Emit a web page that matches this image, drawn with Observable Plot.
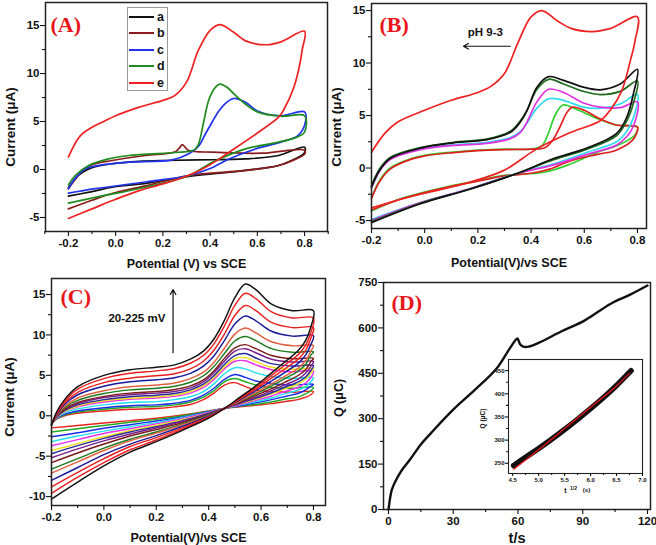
<!DOCTYPE html>
<html><head><meta charset="utf-8">
<script src="https://cdn.jsdelivr.net/npm/d3@7"></script>
<script src="https://cdn.jsdelivr.net/npm/@observablehq/plot@0.6"></script>
<style>
body{margin:0;background:#fff;}
#fig{position:relative;width:656px;height:545px;overflow:hidden;background:#fff;font-family:"Liberation Sans",Arial,sans-serif;}
#fig svg{position:absolute;max-width:none;}
</style></head><body><div id="fig"></div>
<script>
// ---------------- Panel A data ----------------
const A_names = ["a","b","c","d","e"];
const A_colors = ["#111111","#8b1c1c","#2233ee","#1e8c1e","#ee2222"];
const A_a_x = [-0.2,-0.17,-0.14,-0.1,-0.015,0.1,0.2,0.35,0.55,0.69,0.8,0.8,0.75,0.69,0.55,0.31,0.126,-0.015,-0.1,-0.2];
const A_a_y = [-1.9,-0.9,-0.28,0.2,0.6,0.85,0.94,1.0,1.1,1.46,2.33,1.75,1.0,0.42,-0.1,-0.73,-1.45,-1.85,-2.3,-2.78];
const A_b_x = [-0.2,-0.17,-0.142,-0.1,-0.015,0.126,0.253,0.272,0.282,0.295,0.31,0.41,0.62,0.8,0.8,0.75,0.69,0.55,0.31,0.126,-0.015,-0.1,-0.2];
const A_b_y = [-2.0,-1.0,-0.1,0.5,0.94,1.46,1.85,2.3,2.6,2.3,1.98,1.8,1.7,2.0,1.6,0.95,0.42,-0.1,-0.63,-1.7,-2.5,-3.2,-4.1];
const A_c_x = [-0.2,-0.17,-0.128,-0.05,0.055,0.24,0.31,0.35,0.38,0.41,0.437,0.47,0.5,0.55,0.6,0.7,0.8,0.8,0.77,0.7,0.6,0.48,0.4,0.31,0.126,-0.086,-0.2];
const A_c_y = [-2.0,-0.9,0.07,0.5,0.76,1.0,1.63,2.4,3.7,5.0,6.1,7.0,7.4,7.0,6.1,5.6,6.0,4.6,3.5,2.85,2.2,1.1,0.1,-0.63,-1.3,-2.0,-2.47];
const A_d_x = [-0.2,-0.17,-0.114,-0.03,0.055,0.267,0.33,0.35,0.373,0.395,0.42,0.44,0.47,0.5,0.55,0.6,0.7,0.8,0.8,0.77,0.69,0.55,0.41,0.31,0.126,-0.086,-0.2];
const A_d_y = [-1.6,-0.6,0.42,1.1,1.46,1.8,2.0,2.6,5.0,7.3,8.5,8.9,8.6,7.9,6.8,6.0,5.55,5.6,3.9,3.4,2.85,2.15,0.76,-0.63,-1.85,-2.9,-3.5];
const A_e_x = [-0.2,-0.15,-0.1,-0.05,0.0,0.1,0.2,0.25,0.3,0.35,0.4,0.44,0.5,0.55,0.64,0.7,0.8,0.79,0.78,0.755,0.71,0.69,0.6,0.48,0.4,0.31,0.2,0.1,0.0,-0.1,-0.2];
const A_e_y = [1.3,3.5,4.4,5.0,5.6,6.5,7.2,7.7,9.1,12.4,14.5,15.1,14.3,13.4,13.0,13.3,14.4,12.5,11.0,8.6,6.15,5.45,3.8,1.8,0.5,-0.6,-1.5,-2.2,-3.1,-4.1,-5.1];

// ---------------- Panel B data ----------------
const B_colors = ["#ee2222","#111111","#1f6b1f","#e030e0","#30dcec","#30d030","#e02020"];
const B_red_x = [-0.2,-0.15,-0.1,0.0,0.1,0.2,0.25,0.3,0.35,0.4,0.44,0.5,0.55,0.63,0.7,0.8,0.79,0.774,0.74,0.7,0.66,0.55,0.42,0.3,0.17,0.0,-0.08,-0.2];
const B_red_y = [1.5,3.3,4.4,5.5,6.45,7.2,7.8,9.0,11.9,14.4,15.0,14.0,13.3,13.0,13.3,14.4,12.0,10.3,7.3,5.6,4.5,3.4,1.8,-0.2,-1.35,-2.4,-2.9,-3.8];
const B_k_x = [-0.2,-0.17,-0.13,-0.016,0.108,0.234,0.322,0.36,0.385,0.422,0.466,0.522,0.597,0.66,0.735,0.8,0.785,0.76,0.722,0.61,0.485,0.36,0.172,-0.016,-0.2];
const B_black_y = [-1.8,-0.24,0.9,1.9,2.4,2.7,3.4,4.4,5.5,7.7,8.7,8.35,7.7,7.45,8.0,9.4,7.1,4.85,3.3,1.9,0.9,-0.4,-2.0,-3.4,-5.2];
const B_dkgreen_y = [-1.7,-0.1,1.0,1.95,2.45,2.75,3.5,4.5,5.5,7.5,8.45,8.0,7.3,7.0,7.3,8.3,6.2,4.5,3.1,1.8,0.8,-0.4,-2.0,-3.35,-5.1];
const B_magenta_y = [-1.9,-0.3,0.8,1.75,2.15,2.35,2.8,3.4,4.4,6.3,7.5,7.2,6.2,5.8,5.75,6.3,4.0,3.0,2.2,1.3,0.3,-0.45,-1.95,-3.3,-5.0];
const B_cyan_y = [-1.9,-0.3,0.85,1.8,2.2,2.45,2.9,3.5,4.3,5.7,6.6,6.45,5.8,5.7,6.1,7.0,4.8,3.5,2.5,1.5,0.4,-0.4,-1.95,-3.3,-4.9];
const B_lg_x = [-0.2,-0.17,-0.13,-0.05,0.0,0.1,0.2,0.3,0.4,0.44,0.465,0.49,0.52,0.57,0.65,0.72,0.8,0.795,0.78,0.72,0.65,0.55,0.45,0.3,0.2,0.1,0.0,-0.1,-0.2];
const B_lg_y = [-2.8,-1.2,0.0,0.9,1.2,1.5,1.7,1.8,1.8,2.1,3.3,5.0,6.0,5.6,4.7,4.1,3.9,3.3,2.9,2.1,1.5,0.4,-0.4,-0.7,-1.2,-1.7,-2.3,-3.0,-4.1];
const B_sr_x = [-0.2,-0.17,-0.13,-0.05,0.0,0.1,0.2,0.3,0.4,0.45,0.48,0.51,0.535,0.555,0.6,0.65,0.72,0.8,0.795,0.78,0.72,0.65,0.55,0.47,0.4,0.3,0.2,0.1,0.0,-0.1,-0.2];
const B_sr_y = [-2.9,-1.3,-0.1,0.85,1.15,1.45,1.65,1.75,1.8,1.9,2.6,4.0,5.3,5.8,5.5,4.8,4.1,3.9,3.2,2.6,1.7,1.3,0.7,-0.1,-0.5,-0.75,-1.25,-1.75,-2.35,-3.05,-4.0];
const B_note = ["pH 9-3"];
const B_note_x = [0.228], B_note_y = [12.9];
const B_arrow_x1 = [0.322], B_arrow_x2 = [0.146], B_arrow_y = [11.6];

// ---------------- Panel C data (scan rates 20-225 mV, inner -> outer) ----------------
const C_colors = ["#e8251f","#22a822","#1a2ee8","#22e0ec","#e832e8","#f0e020","#2a2a9a","#7a1f8a","#7a1a1a","#1f7a1f","#e06040","#1a1a9a","#e82020","#e82020","#111111"];
const C_Vup = [-0.2,-0.18,-0.15,-0.1,0.0,0.1,0.2,0.27,0.33,0.38,0.42,0.46,0.5,0.54,0.58,0.64,0.72,0.8];
const C_Vlow = [0.79,0.77,0.74,0.7,0.64,0.58,0.52,0.46,0.4,0.3,0.2,0.1,0.0,-0.1,-0.2];
const C_up1  = [-1.0,-0.4,0.0,0.3,0.6,0.8,0.9,1.1,1.4,2.0,2.8,3.8,4.1,3.6,3.2,3.0,2.9,3.0];
const C_up2  = [-1.0,-0.35,0.1,0.45,0.8,1.05,1.15,1.35,1.7,2.3,3.1,4.2,4.6,4.2,3.8,3.5,3.4,3.5];
const C_up3  = [-1.0,-0.3,0.2,0.6,1.0,1.25,1.35,1.55,1.9,2.55,3.4,4.5,5.1,4.75,4.3,4.0,3.8,3.9];
const C_up4  = [-1.0,-0.25,0.35,0.85,1.35,1.65,1.75,2.0,2.35,3.0,3.95,5.2,5.95,5.8,5.3,4.85,4.6,4.7];
const C_up5  = [-1.05,-0.2,0.5,1.1,1.7,2.05,2.2,2.4,2.8,3.5,4.5,5.8,6.75,6.8,6.3,5.7,5.45,5.5];
const C_up6  = [-1.05,-0.15,0.55,1.2,1.85,2.15,2.35,2.55,3.0,3.7,4.7,6.05,7.05,7.2,6.7,6.0,5.75,5.8];
const C_up7  = [-1.05,-0.1,0.65,1.35,2.0,2.35,2.55,2.75,3.2,3.9,4.95,6.35,7.45,7.7,7.15,6.45,6.15,6.2];
const C_up8  = [-1.05,-0.05,0.75,1.5,2.25,2.6,2.8,3.0,3.45,4.2,5.3,6.75,8.0,8.3,7.8,7.0,6.65,6.7];
const C_up9  = [-1.1,0.0,0.8,1.65,2.4,2.8,3.0,3.25,3.7,4.45,5.55,7.1,8.4,8.8,8.3,7.45,7.05,7.1];
const C_up10 = [-1.1,0.05,1.0,1.9,2.75,3.2,3.4,3.65,4.15,4.95,6.1,7.7,9.25,9.8,9.3,8.3,7.85,7.9];
const C_up11 = [-1.1,0.1,1.15,2.2,3.1,3.6,3.8,4.05,4.6,5.4,6.6,8.35,10.1,10.85,10.25,9.15,8.65,8.7];
const C_up12 = [-1.15,0.2,1.4,2.6,3.65,4.2,4.45,4.7,5.25,6.15,7.4,9.3,11.35,12.35,11.75,10.45,9.85,9.9];
const C_up13 = [-1.15,0.3,1.6,2.9,4.1,4.65,4.95,5.2,5.8,6.75,8.1,10.1,12.4,13.65,13.0,11.55,10.9,10.9];
const C_up14 = [-1.2,0.4,1.8,3.3,4.6,5.25,5.55,5.85,6.5,7.45,8.9,11.1,13.65,15.15,14.5,12.85,12.1,12.1];
const C_up15 = [-1.2,0.5,2.0,3.6,5.0,5.7,6.0,6.3,7.0,8.0,9.5,11.8,14.6,16.3,15.6,13.8,13.0,13.0];
const C_low1  = [2.6,2.3,2.0,1.8,1.5,1.3,1.1,0.9,0.6,0.1,-0.3,-0.6,-0.9,-1.2,-1.5];
const C_low2  = [3.1,2.7,2.3,2.1,1.7,1.4,1.2,0.9,0.55,0.0,-0.45,-0.8,-1.2,-1.6,-2.0];
const C_low3  = [3.65,3.2,2.75,2.45,2.0,1.6,1.25,0.9,0.5,-0.15,-0.65,-1.1,-1.55,-2.1,-2.6];
const C_low4  = [4.2,3.6,3.15,2.8,2.2,1.75,1.35,0.9,0.45,-0.25,-0.85,-1.35,-1.9,-2.5,-3.2];
const C_low5  = [4.7,4.05,3.5,3.1,2.45,1.9,1.4,0.9,0.4,-0.35,-1.0,-1.6,-2.2,-2.95,-3.7];
const C_low6  = [5.3,4.55,3.9,3.45,2.7,2.05,1.5,0.9,0.3,-0.5,-1.2,-1.85,-2.6,-3.45,-4.3];
const C_low7  = [5.6,4.8,4.15,3.65,2.85,2.15,1.55,0.9,0.3,-0.6,-1.35,-2.0,-2.8,-3.7,-4.7];
const C_low8  = [6.1,5.25,4.5,3.95,3.1,2.3,1.6,0.9,0.2,-0.7,-1.5,-2.25,-3.1,-4.1,-5.2];
const C_low9  = [6.7,5.7,4.95,4.3,3.35,2.5,1.7,0.9,0.15,-0.85,-1.7,-2.5,-3.5,-4.6,-5.8];
const C_low10 = [7.5,6.35,5.5,4.75,3.7,2.7,1.8,0.9,0.1,-1.0,-2.0,-2.9,-4.0,-5.3,-6.6];
const C_low11 = [8.0,6.8,5.85,5.05,3.95,2.85,1.85,0.9,0.0,-1.1,-2.15,-3.1,-4.3,-5.7,-7.1];
const C_low12 = [8.8,7.5,6.45,5.55,4.3,3.1,2.0,0.9,-0.05,-1.3,-2.45,-3.5,-4.8,-6.4,-8.0];
const C_low13 = [9.6,8.1,6.95,6.0,4.65,3.3,2.1,0.9,-0.15,-1.5,-2.7,-3.8,-5.3,-7.0,-8.8];
const C_low14 = [10.3,8.7,7.5,6.5,5.0,3.5,2.2,0.9,-0.2,-1.65,-3.0,-4.2,-5.8,-7.6,-9.6];
const C_low15 = [11.0,9.3,8.0,6.9,5.3,3.7,2.3,0.9,-0.3,-1.8,-3.2,-4.5,-6.2,-8.2,-10.3];
const C_note = ["20-225 mV"];
const C_note_x = [0.126], C_note_y = [12.0];
const C_arrow_x = [0.264], C_arrow_y1 = [7.8], C_arrow_y2 = [15.6];

// ---------------- Panel D data ----------------
const D_t = [0,0.3,0.7,1.5,3,6,10,15,20,30,40,50,56,59.7,60.3,61,62.5,65,70,80,91,103,112,120];
const D_q = [0,15,35,64,90,128,165,215,255,330,395,465,530,565,558,546,538,538,552,588,625,680,710,740];
const I_t = [4.52,4.75,5.0,5.25,5.5,5.75,6.0,6.25,6.5,6.78];
const I_q = [245,263,282,302,323,345,368,392,418,450];
const I_fit_t = [4.52,5.0,5.5,6.0,6.5,6.75];
const I_fit_q = [237,279,325,371,417,444];

// ---------------- Tick values ----------------
const V_major = [-0.2,0.0,0.2,0.4,0.6,0.8];
const A_V_minor = [-0.3,-0.1,0.1,0.3,0.5,0.7,0.9];
const BC_V_minor = [-0.1,0.1,0.3,0.5,0.7];
const AB_I_major = [-5,0,5,10,15];
const AB_I_minor = [-2.5,2.5,7.5,12.5];
const C_I_major = [-10,-5,0,5,10,15];
const C_I_minor = [-7.5,-2.5,2.5,7.5,12.5];
const D_t_major = [0,30,60,90,120];
const D_t_minor = [15,45,75,105];
const D_q_major = [0,150,300,450,600,750];
const D_q_minor = [75,225,375,525,675];
const I_t_major = [4.5,5.0,5.5,6.0,6.5,7.0];
const I_t_minor = [4.75,5.25,5.75,6.25,6.75];
const I_q_major = [250,300,350,400,450];
const I_q_minor = [275,325,375,425];

// ---------------- helpers ----------------
const fig = document.getElementById("fig");
const FONT = "'Liberation Sans', Arial, Helvetica, sans-serif";
const SERIF = "'Liberation Serif', 'Times New Roman', serif";
const fmt1 = d => d.toFixed(1);
const fmt0 = d => String(d);
const pts = (xs, ys) => xs.map((x, i) => ({x, y: ys[i]}));
const curve = (xs, ys, stroke, sw = 1.7) =>
  Plot.line(pts(xs, ys), {x: "x", y: "y", stroke, strokeWidth: sw, curve: "catmull-rom"});

function place(svg, left, top) {
  svg.style.left = left + "px";
  svg.style.top = top + "px";
  fig.appendChild(svg);
}

function panel(o) {
  return Plot.plot({
    width: o.width, height: o.height,
    marginLeft: o.ml, marginRight: o.mr, marginTop: o.mt, marginBottom: o.mb,
    x: {domain: o.xd}, y: {domain: o.yd},
    style: {fontFamily: FONT, fontWeight: "bold", fontSize: (o.fs || 11.5) + "px", color: "#111", background: "transparent", overflow: "visible"},
    marks: [
      ...o.marks,
      Plot.frame({stroke: "#222", strokeWidth: o.fw || 1.5}),
      Plot.axisX(o.xMinor, {anchor: "bottom", tickSize: o.minT || 3, fill: "none", label: null, strokeWidth: 1.1}),
      Plot.axisX(o.xMajor, {anchor: "bottom", tickSize: o.majT || 5, tickPadding: o.xPad ?? 2, tickFormat: o.xFmt, label: null, strokeWidth: 1.1}),
      Plot.axisY(o.yMinor, {anchor: "left", tickSize: o.minT || 3, fill: "none", label: null, strokeWidth: 1.1}),
      Plot.axisY(o.yMajor, {anchor: "left", tickSize: o.majT || 5, tickPadding: o.yPad ?? 1, tickFormat: o.yFmt, label: null, strokeWidth: 1.1}),
      ...(o.extra || [])
    ]
  });
}
const xTitle = (t, dy, fs) => Plot.text([t], {text: d => d, frameAnchor: "bottom", lineAnchor: "middle", dy, fontSize: fs, textAnchor: "middle"});
const yTitle = (t, dx, dy, fs) => Plot.text([t], {text: d => d, frameAnchor: "left", lineAnchor: "middle", rotate: -90, dx: -dx, dy, fontSize: fs, textAnchor: "middle"});
const tag = (t, dx, dy) => Plot.text([t], {text: d => d, frameAnchor: "top-left", lineAnchor: "middle", dx, dy, fill: "#e8161b", fontFamily: SERIF, fontSize: 22, fontWeight: "bold", textAnchor: "start"});

// ---------------- Panel A ----------------
const A_x = [A_a_x, A_b_x, A_c_x, A_d_x, A_e_x];
const A_y = [A_a_y, A_b_y, A_c_y, A_d_y, A_e_y];
place(panel({
  width: 328, height: 270, ml: 45, mr: 1, mt: 2, mb: 39,
  xd: [-0.297, 0.897], yd: [-6.46, 17.4],
  xMajor: V_major, xMinor: A_V_minor, yMajor: AB_I_major, yMinor: AB_I_minor,
  xFmt: fmt1, yFmt: fmt0,
  marks: A_x.map((xs, i) => curve(xs, A_y[i], A_colors[i])),
  extra: [xTitle("Potential (V) vs SCE", 32, 12.5), yTitle("Current (\u03bcA)", 35, 10, 13.5), tag("(A)", 5, 22)]
}), 0, 0);

// legend for A
const leg = document.createElement("div");
leg.style.cssText = "position:absolute;left:127px;top:7px;width:41px;height:84px;border:1px solid #9a9a9a;background:#fff;box-sizing:border-box;";
A_names.forEach((n, i) => {
  const row = document.createElement("div");
  row.style.cssText = `position:absolute;left:0;top:${1 + i * 16.6}px;height:15px;display:flex;align-items:center;`;
  row.innerHTML = `<svg width="26" height="4" style="position:static;margin-left:1px"><line x1="0" y1="2" x2="25" y2="2" stroke="${A_colors[i]}" stroke-width="2"/></svg><span style="font:bold 12.5px ${FONT};margin-left:2px;color:#111">${n}</span>`;
  leg.appendChild(row);
});
fig.appendChild(leg);

// ---------------- Panel B ----------------
const B_x = [B_red_x, B_k_x, B_k_x, B_k_x, B_k_x, B_lg_x, B_sr_x];
const B_y = [B_red_y, B_black_y, B_dkgreen_y, B_magenta_y, B_cyan_y, B_lg_y, B_sr_y];
const B_order = [5, 6, 4, 3, 2, 1, 0];
place(panel({
  width: 328, height: 270, ml: 43, mr: 10, mt: 3, mb: 42,
  xd: [-0.2, 0.834], yd: [-5.76, 15.67],
  xMajor: V_major, xMinor: BC_V_minor, yMajor: AB_I_major, yMinor: AB_I_minor,
  xFmt: fmt1, yFmt: fmt0,
  marks: [
    ...B_order.map(i => curve(B_x[i], B_y[i], B_colors[i])),
    Plot.text(B_note, {x: B_note_x, y: B_note_y, text: d => d, fontSize: 11.5}),
    Plot.arrow(B_arrow_x1, {x1: B_arrow_x1, x2: B_arrow_x2, y1: B_arrow_y, y2: B_arrow_y, stroke: "#111", strokeWidth: 1.2, headLength: 7})
  ],
  extra: [xTitle("Potential(V)/vs SCE", 34, 12.5), yTitle("Current (\u03bcA)", 35, 11, 13.5), tag("(B)", 8, 21)]
}), 328, 0);

// ---------------- Panel C ----------------
const C_up = [C_up1,C_up2,C_up3,C_up4,C_up5,C_up6,C_up7,C_up8,C_up9,C_up10,C_up11,C_up12,C_up13,C_up14,C_up15];
const C_low = [C_low1,C_low2,C_low3,C_low4,C_low5,C_low6,C_low7,C_low8,C_low9,C_low10,C_low11,C_low12,C_low13,C_low14,C_low15];
const C_X = C_Vup.concat(C_Vlow);
place(panel({
  width: 328, height: 275, ml: 51, mr: 3, mt: 8, mb: 40,
  xd: [-0.2, 0.846], yd: [-11.1, 16.98],
  xMajor: V_major, xMinor: BC_V_minor, yMajor: C_I_major, yMinor: C_I_minor,
  xFmt: fmt1, yFmt: fmt0,
  marks: [
    ...C_up.map((u, i) => curve(C_X, u.concat(C_low[i]), C_colors[i], 1.45)),
    Plot.text(C_note, {x: C_note_x, y: C_note_y, text: d => d, fontSize: 11.5}),
    Plot.arrow(C_arrow_x, {x1: C_arrow_x, x2: C_arrow_x, y1: C_arrow_y1, y2: C_arrow_y2, stroke: "#111", strokeWidth: 1.2, headLength: 7})
  ],
  extra: [xTitle("Potential(V)/vs SCE", 32, 12.5), yTitle("Current (\u03bcA)", 42, 5, 13.5), tag("(C)", 9, 18)]
}), 0, 270);

// ---------------- Panel D ----------------
place(panel({
  width: 328, height: 275, ml: 55, mr: 6, mt: 12, mb: 36,
  xd: [-2.3, 121.4], yd: [0, 750],
  xMajor: D_t_major, xMinor: D_t_minor, yMajor: D_q_major, yMinor: D_q_minor,
  xFmt: fmt0, yFmt: fmt0,
  marks: [curve(D_t, D_q, "#111", 2.4)],
  extra: [xTitle("t/s", 29, 14.5), yTitle("Q (\u03bcC)", 45, 2, 12.5), tag("(D)", 8, 20)]
}), 328, 270);

// ---------------- Inset ----------------
place(panel({
  width: 180, height: 145, ml: 38, mr: 8, mt: 5, mb: 26,
  xd: [4.42, 7.0], yd: [228, 474], fs: 6, fw: 1.1, majT: 3, minT: 2, xPad: 1, yPad: 1,
  xMajor: I_t_major, xMinor: I_t_minor, yMajor: I_q_major, yMinor: I_q_minor,
  xFmt: fmt1, yFmt: fmt0,
  marks: [
    Plot.frame({fill: "#fff", stroke: null}),
    Plot.line(pts(I_t, I_q), {x: "x", y: "y", stroke: "#111", strokeWidth: 5.5, curve: "catmull-rom"}),
    Plot.line(pts(I_fit_t, I_fit_q), {x: "x", y: "y", stroke: "#e8161b", strokeWidth: 1.3, curve: "catmull-rom"})
  ],
  extra: [
    yTitle("Q (\u03bcC)", 26, 2, 6.5),
    Plot.text(["t"], {text: d => d, frameAnchor: "bottom", lineAnchor: "middle", dx: -10, dy: 17, fontSize: 7}),
    Plot.text(["1/2"], {text: d => d, frameAnchor: "bottom", lineAnchor: "middle", dx: -2, dy: 14.5, fontSize: 5}),
    Plot.text(["(s)"], {text: d => d, frameAnchor: "bottom", lineAnchor: "middle", dx: 11, dy: 17, fontSize: 6})
  ]
}), 470, 354);
</script>
</body></html>
